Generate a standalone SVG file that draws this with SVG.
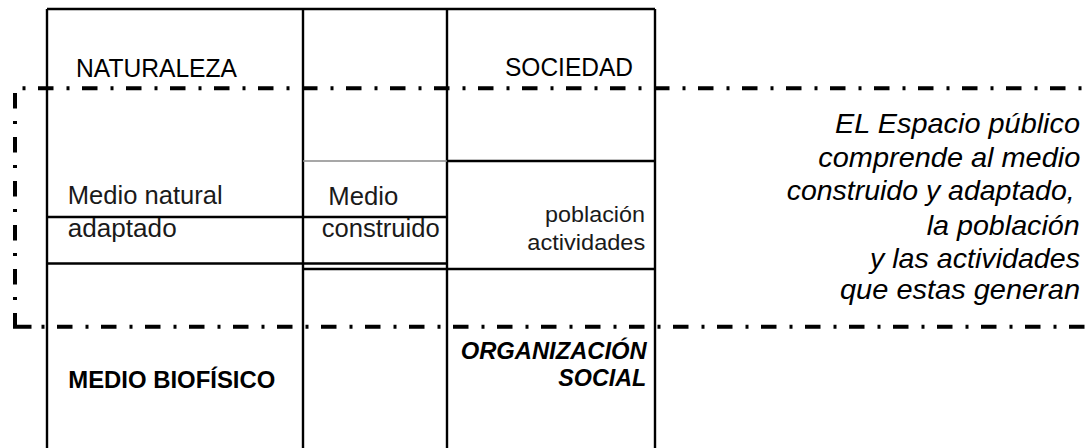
<svg xmlns="http://www.w3.org/2000/svg" width="1091" height="448" viewBox="0 0 1091 448">
<style>
.g{stroke:#000;stroke-width:2.4;fill:none}
.gy{stroke:#8a8a8a;stroke-width:1.6;fill:none}
.dd{stroke:#000;stroke-width:4;fill:none;stroke-dasharray:3 12.5 15.5 13}
.dv{stroke:#000;stroke-width:4;fill:none;stroke-dasharray:15.5 12.5 3 13}
text{font-family:"Liberation Sans",Arial,sans-serif;fill:#000}
.h{font-size:25.5px}
.m{font-size:25.5px;fill:#1a1a1a}
.s{font-size:21.5px;fill:#1a1a1a}
.b{font-size:24px;font-weight:bold}
.bi{font-size:23px;font-weight:bold;font-style:italic}
.it{font-size:28.5px;font-style:italic}
</style>
<rect width="1091" height="448" fill="#fff"/>
<g id="grid">
<path class="g" d="M47,9H655M47,9V448M303,9V448M447,9V448M655,9V448"/>
<path class="g" d="M47,217H447"/>
<path class="g" d="M47,263.5H447" stroke="#222"/>
<path class="g" d="M303,269H655"/>
<path class="gy" d="M303,161H447"/>
<path class="g" d="M447,161H655"/>
</g>
<g id="connectors">
<path class="dd" d="M22.5,88.3H1091"/>
<path class="dv" d="M15,93V313"/>
<path stroke="#000" stroke-width="4" fill="none" d="M15,313V326.7H31.5"/>
<path class="dd" d="M41.5,326.7H1091"/>
</g>
<g id="naturaleza"><text class="h" x="76" y="77" textLength="161" lengthAdjust="spacingAndGlyphs">NATURALEZA</text></g>
<g id="sociedad"><text class="h" x="505" y="76" textLength="128" lengthAdjust="spacingAndGlyphs">SOCIEDAD</text></g>
<g id="medio-natural">
<text class="m" x="67.7" y="204" textLength="155" lengthAdjust="spacingAndGlyphs">Medio natural</text>
<text class="m" x="67.7" y="236.7" textLength="109" lengthAdjust="spacingAndGlyphs">adaptado</text>
</g>
<g id="medio-construido">
<text class="m" x="328.3" y="204.5" textLength="70" lengthAdjust="spacingAndGlyphs">Medio</text>
<text class="m" x="321.7" y="236.7" textLength="118" lengthAdjust="spacingAndGlyphs">construido</text>
</g>
<g id="poblacion">
<text class="s" x="545" y="221.7" textLength="100" lengthAdjust="spacingAndGlyphs">población</text>
<text class="s" x="527.3" y="250" textLength="118" lengthAdjust="spacingAndGlyphs">actividades</text>
</g>
<g id="medio-biofisico"><text class="b" x="68.3" y="388.3" textLength="207" lengthAdjust="spacingAndGlyphs">MEDIO BIOFÍSICO</text></g>
<g id="organizacion-social">
<text class="bi" x="460.7" y="359" textLength="186" lengthAdjust="spacingAndGlyphs">ORGANIZACIÓN</text>
<text class="bi" x="558.3" y="386" textLength="88" lengthAdjust="spacingAndGlyphs">SOCIAL</text>
</g>
<g id="espacio-publico">
<text class="it" x="835" y="132.7" textLength="245" lengthAdjust="spacingAndGlyphs">EL Espacio público</text>
<text class="it" x="818.3" y="167.3" textLength="262" lengthAdjust="spacingAndGlyphs">comprende al medio</text>
<text class="it" x="786.7" y="200" textLength="288" lengthAdjust="spacingAndGlyphs">construido y adaptado,</text>
<text class="it" x="926.7" y="235" textLength="153" lengthAdjust="spacingAndGlyphs">la población</text>
<text class="it" x="870" y="268.3" textLength="210" lengthAdjust="spacingAndGlyphs">y las actividades</text>
<text class="it" x="840" y="299.3" textLength="240" lengthAdjust="spacingAndGlyphs">que estas generan</text>
</g>
</svg>
